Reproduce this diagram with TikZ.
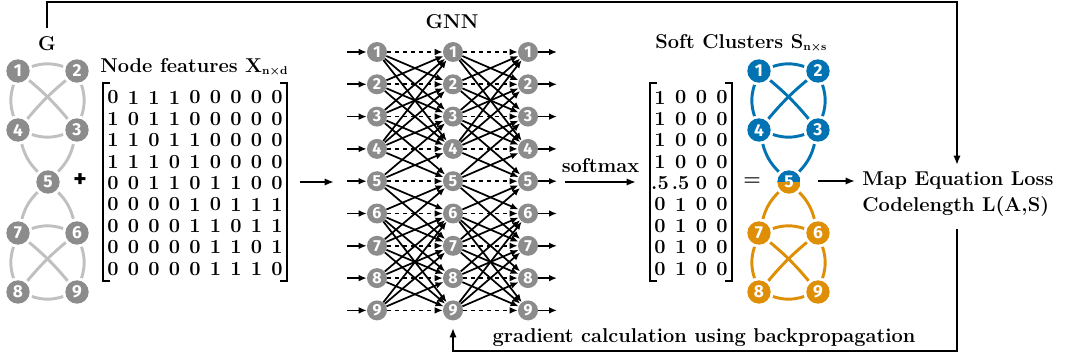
\documentclass[tikz,border=0pt]{standalone}
\usepackage{fontspec}
\newfontfamily\numfont{Fira Sans}
\usetikzlibrary{arrows.meta,calc}
\definecolor{cblue}{HTML}{0173B2}
\definecolor{corange}{HTML}{DE8F05}
\definecolor{ngrey}{RGB}{140,140,140}
\definecolor{egrey}{RGB}{192,192,192}
\newcommand{\sbs}[1]{\raisebox{-1.5pt}{\fontsize{8.5}{8.5}\selectfont #1}}
\begin{document}
\begin{tikzpicture}[x=0.75pt,y=0.75pt,
  gnode/.style={circle,fill=ngrey,inner sep=0pt,minimum size=17.5pt,text=white,font=\numfont\bfseries\fontsize{13}{13}\selectfont},
  bnode/.style={gnode,fill=cblue},
  onode/.style={gnode,fill=corange},
  nnode/.style={circle,fill=ngrey,inner sep=0pt,minimum size=15pt,text=white,font=\numfont\bfseries\fontsize{12}{12}\selectfont},
  gedge/.style={draw=egrey,line width=2.2pt,shorten <=2pt,shorten >=2pt},
  bedge/.style={gedge,draw=cblue},
  oedge/.style={gedge,draw=corange},
  lab/.style={font=\bfseries\fontsize{15}{19.5}\selectfont,inner sep=0pt},
  mat/.style={font=\bfseries\fontsize{15}{18}\selectfont,inner sep=0pt},
  brk/.style={line width=1pt},
  arr/.style={-{Latex[length=6pt,width=5pt]},line width=1.3pt},
  big/.style={-{Latex[length=7pt,width=5.5pt]},line width=1.5pt},
]
\useasboundingbox (0,0) rectangle (1065,-360);

% ---------- Graph G ----------
\node[lab] (Glab) at (47,-44) {G};
\node[gnode] (g1) at (18,-71) {1};
\node[gnode] (g2) at (77,-71) {2};
\node[gnode] (g4) at (18,-130) {4};
\node[gnode] (g3) at (77,-130) {3};
\node[gnode] (g5) at (48,-182) {5};
\node[gnode] (g7) at (18,-233) {7};
\node[gnode] (g6) at (77,-233) {6};
\node[gnode] (g8) at (18,-292) {8};
\node[gnode] (g9) at (77,-292) {9};
\draw[gedge] (g1) to[bend left=18] (g2);
\draw[gedge] (g1) to[bend right=18] (g4);
\draw[gedge] (g2) to[bend left=18] (g3);
\draw[gedge] (g4) to[bend right=18] (g3);
\draw[gedge] (g1) to[bend left=5] (g3);
\draw[gedge] (g2) to[bend right=5] (g4);
\draw[gedge] (g4) to[bend right=15] (g5);
\draw[gedge] (g3) to[bend left=15] (g5);
\draw[gedge] (g5) to[bend right=15] (g7);
\draw[gedge] (g5) to[bend left=15] (g6);
\draw[gedge] (g7) to[bend left=18] (g6);
\draw[gedge] (g7) to[bend right=18] (g8);
\draw[gedge] (g6) to[bend left=18] (g9);
\draw[gedge] (g8) to[bend right=18] (g9);
\draw[gedge] (g7) to[bend left=5] (g9);
\draw[gedge] (g6) to[bend right=5] (g8);

\node[lab,font=\numfont\bfseries\fontsize{19}{19}\selectfont] (plus) at (80,-181) {+};

% ---------- Node features ----------
\node[lab,anchor=base west] (xlab) at (100,-73) {Node features X\sbs{n×d}};
\foreach \r/\row in {1/{0,1,1,1,0,0,0,0,0},2/{1,0,1,1,0,0,0,0,0},3/{1,1,0,1,1,0,0,0,0},
  4/{1,1,1,0,1,0,0,0,0},5/{0,0,1,1,0,1,1,0,0},6/{0,0,0,0,1,0,1,1,1},
  7/{0,0,0,0,1,1,0,1,1},8/{0,0,0,0,0,1,1,0,1},9/{0,0,0,0,0,1,1,1,0}}{
  \foreach \v [count=\c] in \row {
    \node[mat] (x\r-\c) at ({113+20.5*(\c-1)},{-(97.5+21.4*(\r-1))}) {\v};
  }
}
\draw[brk] (110,-83) -- (103,-83) -- (103,-281) -- (110,-281);
\draw[brk] (280,-83) -- (287,-83) -- (287,-281) -- (280,-281);

% ---------- GNN ----------
\node[lab] (gnnlab) at (452,-22) {GNN};
\foreach \i in {1,...,9}{
  \pgfmathsetmacro\yy{-(52+32.3*(\i-1))}
  \node[nnode] (a\i) at (377,\yy) {\i};
  \node[nnode] (b\i) at (453,\yy) {\i};
  \node[nnode] (c\i) at (528,\yy) {\i};
  \coordinate (in\i) at (347,\yy);
  \coordinate (out\i) at (557,\yy);
  \draw[arr] (in\i) -- (a\i);
  \draw[arr] (c\i) -- (out\i);
  \draw[arr,dashed] (a\i) -- (b\i);
  \draw[arr,dashed] (b\i) -- (c\i);
}
\foreach \i/\nb in {1/{2,3,4},2/{1,3,4},3/{1,2,4,5},4/{1,2,3,5},5/{3,4,6,7},
  6/{5,7,8,9},7/{5,6,8,9},8/{6,7,9},9/{6,7,8}}{
  \foreach \j in \nb {
    \draw[arr] (a\i) -- (b\j);
    \draw[arr] (b\i) -- (c\j);
  }
}
\coordinate (xa) at (300,-182);
\coordinate (xb) at (334,-182);
\draw[big] (xa) -- (xb);

% ---------- softmax ----------
\coordinate (sa) at (565,-182);
\coordinate (sb) at (636,-182);
\draw[big] (sa) -- node[lab,above=6pt] (smlab) {softmax} (sb);

% ---------- Soft cluster matrix ----------
\node[lab] (slab) at (741,-43) {Soft Clusters S\sbs{n×s}};
\foreach \r/\row in {1/{1,0,0,0},2/{1,0,0,0},3/{1,0,0,0},4/{1,0,0,0},5/{.5,.5,0,0},
  6/{0,1,0,0},7/{0,1,0,0},8/{0,1,0,0},9/{0,1,0,0}}{
  \foreach \v [count=\c] in \row {
    \node[mat] (s\r-\c) at ({660+20.7*(\c-1)},{-(97.5+21.4*(\r-1))}) {\v};
  }
}
\draw[brk] (657,-83) -- (650,-83) -- (650,-281) -- (657,-281);
\draw[brk] (725,-83) -- (732,-83) -- (732,-281) -- (725,-281);
\node[lab] (eq) at (752,-182) {=};

% ---------- Cluster graph ----------
\node[bnode] (k1) at (759,-71) {1};
\node[bnode] (k2) at (818,-71) {2};
\node[bnode] (k4) at (759,-130) {4};
\node[bnode] (k3) at (818,-130) {3};
\node[gnode,fill=none,path picture={
  \fill[cblue] (path picture bounding box.west) rectangle (path picture bounding box.north east);
  \fill[corange] (path picture bounding box.west) rectangle (path picture bounding box.south east);
  \node[text=white,font=\numfont\bfseries\fontsize{13}{13}\selectfont] at (path picture bounding box.center) {5};
}] (k5) at (789,-182) {};
\node[onode] (k7) at (759,-233) {7};
\node[onode] (k6) at (818,-233) {6};
\node[onode] (k8) at (759,-292) {8};
\node[onode] (k9) at (818,-292) {9};
\draw[bedge] (k1) to[bend left=18] (k2);
\draw[bedge] (k1) to[bend right=18] (k4);
\draw[bedge] (k2) to[bend left=18] (k3);
\draw[bedge] (k4) to[bend right=18] (k3);
\draw[bedge] (k1) to[bend left=5] (k3);
\draw[bedge] (k2) to[bend right=5] (k4);
\draw[bedge] (k4) to[bend right=15] (k5);
\draw[bedge] (k3) to[bend left=15] (k5);
\draw[oedge] (k5) to[bend right=15] (k7);
\draw[oedge] (k5) to[bend left=15] (k6);
\draw[oedge] (k7) to[bend left=18] (k6);
\draw[oedge] (k7) to[bend right=18] (k8);
\draw[oedge] (k6) to[bend left=18] (k9);
\draw[oedge] (k8) to[bend right=18] (k9);
\draw[oedge] (k7) to[bend left=5] (k9);
\draw[oedge] (k6) to[bend right=5] (k8);

% ---------- Loss ----------
\node[lab,anchor=west,align=left] (loss) at (862,-194) {Map Equation Loss\\Codelength L(A,S)};
\coordinate (ka) at (818,-181);
\coordinate (kb) at (855,-181);
\draw[big] (ka) -- (kb);

% ---------- feedback lines ----------
\coordinate (ltop) at (957,-165);
\coordinate (lbot) at (957,-229);
\coordinate (gtip) at (453,-328);
\draw[big] (47,-28) -- (47,-2) -- (957,-2) -- (ltop);
\draw[big] (lbot) -- (957,-351) -| (gtip);
\node[lab] (gradlab) at (704,-338) {gradient calculation using backpropagation};
\end{tikzpicture}
\end{document}
